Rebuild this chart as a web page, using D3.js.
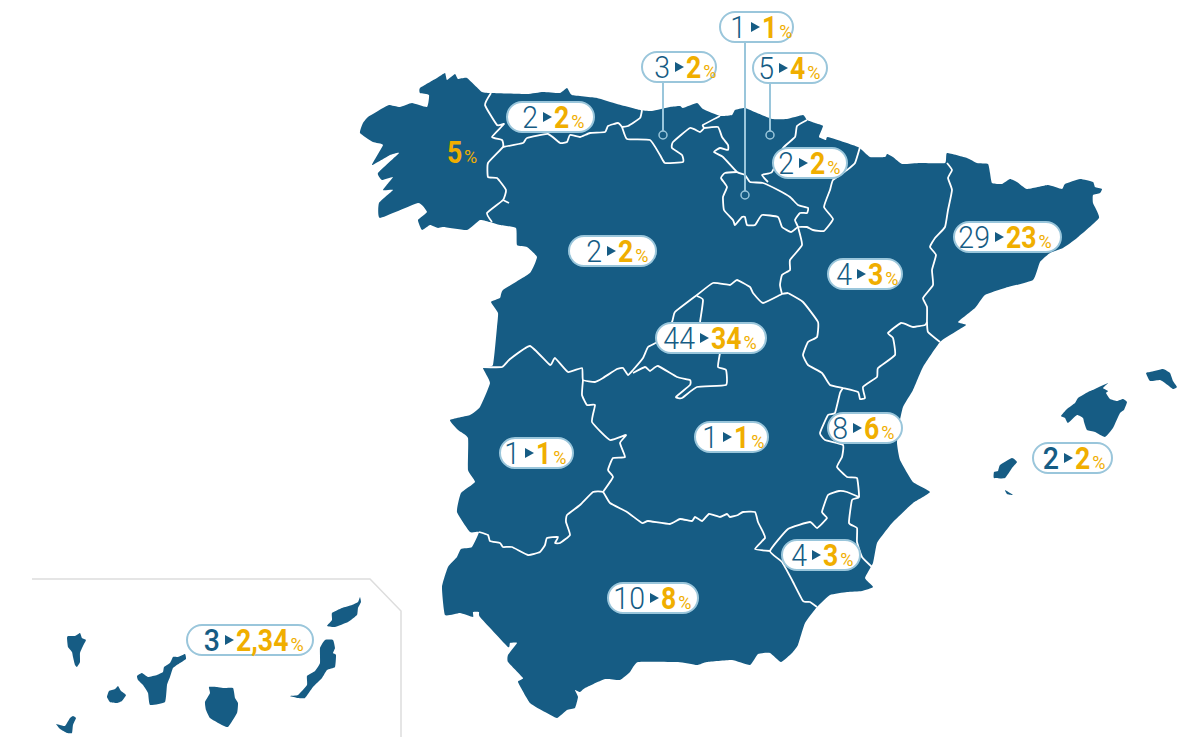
<!DOCTYPE html>
<html>
<head>
<meta charset="utf-8">
<script src="https://cdn.jsdelivr.net/npm/d3@7"></script>
<style>
html, body { margin: 0; padding: 0; background: #fff; }
svg { display: block; }
</style>
</head>
<body>
<script>
var width = 1183,
    height = 737;

// share of each region, before > after
var regions = ["Rioja", "Cantabria", "Pais Vasco", "Asturias", "Navarra", "Castilla y Leon", "Cataluna", "Aragon",
    "Madrid", "Castilla-La Mancha", "Extremadura", "Valencia", "Murcia", "Andalucia", "Baleares", "Canarias"];
var fromValues = ["1", "3", "5", "2", "2", "2", "29", "4", "44", "1", "1", "8", "4", "10", "2", "3"];
var toValues = ["1", "2", "4", "2", "2", "2", "23", "3", "34", "1", "1", "6", "3", "8", "2", "2,34"];
var galiciaValue = "5";

// label placement, same order as regions: [pill left, pill right, middle y, arrow left]
var labelBoxes = [
    [720, 793, 27, 751], [642, 716, 67, 675], [753, 827, 68, 779], [507, 594, 117, 543],
    [773, 847, 163, 799], [569, 656, 251, 607], [954, 1061, 237, 995], [828, 902, 274, 857],
    [656, 766, 338, 700], [695, 768, 437, 723], [500, 573, 453, 525], [828, 902, 428, 853],
    [782, 860, 555, 812], [608, 698, 598, 650], [1033, 1112, 458, 1064], [187, 313, 640, 225]
];
// regions too small for a label on top: [region, dot x, dot y]
var leaders = [["Rioja", 745, 195], ["Cantabria", 663, 135], ["Pais Vasco", 770, 135]];
var boldFrom = ["Baleares", "Canarias"];

var mainland = [[360,133],[363,123],[368,117],[383,108],[389,105],[400,107],[412,103],[427,107],[429,95],[420,93],[420,88],
    [437,78],[445,73],[447,80],[455,74],[458,79],[467,78],[482,92],[492,93],[527,94],[543,92],[560,93],[567,88],[572,95],
    [597,98],[617,104],[640,110],[652,111],[670,107],[680,106],[683,108],[697,103],[703,109],[720,116],[732,115],[735,110],
    [745,108],[757,113],[772,119],[787,119],[803,115],[807,120],[815,123],[823,126],[819,137],[826,140],[828,137],[858,147],
    [870,157],[885,157],[887,154],[893,157],[902,164],[920,163],[945,163],[947,153],[967,158],[977,163],[988,164],[990,173],
    [992,183],[1002,184],[1010,179],[1017,182],[1027,189],[1048,185],[1062,189],[1065,184],[1080,179],[1093,182],[1095,187],
    [1102,189],[1100,193],[1093,195],[1093,203],[1099,218],[1077,238],[1063,248],[1050,253],[1040,262],[1033,280],[1005,288],
    [985,295],[975,308],[958,322],[966,325],[955,332],[940,342],[923,367],[913,390],[903,407],[899,425],[897,443],[900,460],
    [913,482],[930,492],[913,503],[893,522],[888,528],[877,543],[873,563],[865,578],[873,587],[862,591],[847,592],[830,595],
    [817,607],[805,623],[798,645],[792,653],[781,662],[770,653],[758,654],[750,665],[732,660],[707,662],[697,665],[678,662],
    [638,662],[630,672],[620,680],[605,679],[585,688],[580,692],[575,690],[578,697],[575,708],[567,710],[557,718],[545,712],
    [530,703],[518,682],[523,678],[508,662],[508,655],[517,643],[510,643],[508,647],[480,617],[479,612],[473,612],[473,617],
    [460,613],[445,615],[442,587],[448,567],[457,557],[461,549],[472,547],[479,532],[470,532],[457,512],[461,493],[475,482],
    [468,470],[468,438],[458,430],[450,420],[470,415],[480,407],[490,383],[483,368],[493,365],[497,327],[498,313],[491,302],
    [500,298],[503,290],[530,273],[537,257],[527,247],[517,245],[516,228],[500,225],[490,222],[480,220],[467,230],[443,227],
    [438,228],[430,225],[422,230],[418,220],[427,212],[418,203],[380,218],[379,203],[393,190],[383,190],[393,177],[382,180],
    [378,173],[399,153],[390,155],[372,165],[383,145],[373,142]];

var islands = [
    // Baleares
    [[1061,416],[1067,409],[1075,403],[1078,398],[1088,392],[1095,389],[1108,383],[1103,388],[1108,391],[1106,393],[1110,399],[1117,401],[1123,399],[1127,402],[1124,410],[1120,413],[1113,428],[1105,437],[1095,432],[1087,430],[1084,422],[1083,418],[1077,415],[1068,423],[1065,418]],
    [[1146,373],[1150,372],[1163,369],[1170,373],[1173,381],[1177,387],[1173,389],[1165,383],[1160,380],[1150,381]],
    [[994,472],[998,471],[1000,465],[1012,458],[1017,462],[1012,468],[1005,478],[994,478]],
    [[1005,490],[1013,495],[1007,494]],
    // Canarias
    [[67,638],[68,636],[75,636],[80,633],[82,638],[86,640],[83,646],[80,653],[80,662],[77,667],[75,665],[73,657],[72,652],[68,647]],
    [[107,697],[109,691],[115,689],[118,686],[121,691],[126,695],[122,701],[117,703],[110,702]],
    [[137,676],[142,673],[148,677],[157,675],[163,672],[164,667],[170,663],[173,657],[178,657],[185,654],[186,659],[180,663],[173,668],[170,677],[167,685],[165,702],[150,705],[148,693],[143,685],[138,680]],
    [[205,702],[210,693],[209,687],[217,687],[223,688],[233,688],[235,698],[238,703],[237,713],[228,727],[220,724],[210,718],[206,710]],
    [[56,724],[60,725],[65,726],[70,718],[73,716],[76,718],[73,725],[72,733],[67,733],[60,729]],
    [[290,696],[298,695],[307,685],[307,676],[315,671],[320,663],[320,648],[325,640],[333,640],[335,648],[333,653],[336,655],[335,667],[327,670],[322,678],[313,687],[305,698],[298,698]],
    [[327,626],[332,620],[332,613],[342,608],[352,605],[358,602],[360,597],[361,602],[358,608],[357,615],[348,622],[335,627]]
];

var borders = [
    [[491,93],[485,105],[497,125],[504,124],[492,137],[502,140],[503,147],[488,163],[488,177],[497,178],[506,190],[503,200],[487,213],[492,222]],
    [[503,200],[509,203]],
    [[503,147],[523,143],[527,138],[548,134],[560,143],[567,142],[570,135],[580,137],[590,133],[605,132],[608,126],[618,123],[622,127],[627,139],[650,140],[660,155],[665,163],[683,162],[682,155],[672,148],[673,142],[690,128],[700,132],[704,128],[703,125],[720,116]],
    [[622,127],[628,126],[640,118],[642,110]],
    [[704,128],[718,127],[722,137],[728,145],[728,150],[720,148],[714,152],[723,157],[737,172],[745,175],[750,182],[763,183],[778,190],[790,197],[798,205],[808,208],[807,213],[800,213],[795,220],[798,227],[802,245],[790,260],[790,270],[782,275],[780,285],[782,294]],
    [[737,172],[725,173],[721,178],[727,187],[723,197],[724,210],[733,220],[735,225],[742,217],[745,217],[747,225],[755,225],[762,215],[778,217],[782,227],[791,232],[798,227],[807,227],[813,230],[824,231],[833,219],[824,207],[830,190],[833,180],[847,170],[855,163],[860,147]],
    [[807,120],[797,126],[795,137],[783,148],[772,172],[762,175],[768,182]],
    [[788,293],[782,294],[763,303],[753,293],[750,287],[737,280],[730,285],[713,283],[697,295],[675,312],[672,322],[657,342],[648,347],[643,358],[633,370],[628,375],[623,368],[617,369],[603,378],[595,382],[583,380],[582,368],[568,372],[555,358],[550,365],[530,346],[510,359],[502,367],[483,367]],
    [[697,296],[703,300],[700,322]],
    [[720,353],[718,367],[726,370],[726,385],[697,387],[682,398],[676,397],[690,385],[690,380],[677,377],[658,366],[650,371],[645,367],[633,373]],
    [[788,293],[803,302],[818,322],[817,337],[808,342],[803,355],[808,365],[822,373],[830,385],[843,388],[858,392],[860,399],[865,398],[863,387],[877,377],[878,368],[895,355],[893,338],[888,333],[901,323],[913,327],[925,325],[927,322]],
    [[947,163],[952,170],[948,178],[952,190],[948,210],[945,227],[935,238],[930,247],[936,255],[932,270],[933,285],[923,298],[927,307],[927,322],[928,332],[940,342]],
    [[843,388],[840,393],[835,413],[828,415],[820,433],[825,440],[843,445],[842,457],[837,467],[847,477],[857,478],[859,497],[852,500],[849,523],[857,528],[857,542],[862,557],[872,567]],
    [[859,497],[847,492],[839,491],[828,495],[822,512],[827,518],[817,528],[810,522],[788,529],[770,551],[782,562],[792,580],[803,601],[810,602],[817,607]],
    [[479,532],[488,535],[490,541],[500,543],[503,547],[512,547],[528,555],[540,552],[545,545],[547,538],[558,537],[555,543],[560,543],[570,535],[566,522],[567,515],[580,505],[593,492],[603,492],[610,503],[627,512],[642,523],[648,521],[670,524],[680,519],[692,521],[695,517],[702,521],[709,514],[720,517],[727,514],[730,517],[738,515],[743,512],[755,512],[758,522],[763,532],[765,538],[755,549],[770,551]],
    [[603,492],[613,477],[608,470],[613,458],[625,457],[620,443],[626,435],[610,440],[592,422],[595,405],[587,405],[582,395],[583,380]]
];

var insetFrame = [[32,579],[370,579],[401,611],[401,737]];

var blue = "#165c84",
    amber = "#f0ae00",
    pale = "#9ac6db",
    font = "Roboto, sans-serif";

var svg = d3.select("body").append("svg")
    .attr("width", width)
    .attr("height", height)
    .style("font-family", font);

// soften the traced points a little, the original outlines are not straight segments
var closedShape = d3.line().curve(d3.curveCardinalClosed.tension(0.6));
var openLine = d3.line().curve(d3.curveCardinal.tension(0.6));

svg.append("path")
    .attr("d", d3.line()(insetFrame))
    .attr("fill", "none")
    .attr("stroke", "#dddddd")
    .attr("stroke-width", 1.5);

svg.selectAll(".land")
    .data([mainland].concat(islands))
    .enter().append("path")
    .attr("class", "land")
    .attr("d", closedShape)
    .attr("fill", blue);

svg.selectAll(".border")
    .data(borders)
    .enter().append("path")
    .attr("class", "border")
    .attr("d", openLine)
    .attr("fill", "none")
    .attr("stroke", "#fff")
    .attr("stroke-width", 1.8)
    .attr("stroke-linejoin", "round");

// leader lines go under the pills
var labels = regions.map(function (name, i) {
    return { name: name, from: fromValues[i], to: toValues[i], box: labelBoxes[i] };
});

leaders.forEach(function (l) {
    var box = labels.find(function (d) { return d.name == l[0]; }).box;
    svg.append("line")
        .attr("x1", l[1]).attr("x2", l[1])
        .attr("y1", box[2]).attr("y2", l[2] - 4)
        .attr("stroke", pale)
        .attr("stroke-width", 2);
    svg.append("circle")
        .attr("cx", l[1]).attr("cy", l[2]).attr("r", 4)
        .attr("fill", "none")
        .attr("stroke", pale)
        .attr("stroke-width", 1.5);
});

// digits in the original are narrower than Roboto, so each run gets its own squeeze
function number(g, str, x, y, size, weight, color, anchor, squeeze) {
    return g.append("text")
        .attr("transform", "translate(" + x + "," + y + ") scale(" + squeeze + ",1)")
        .attr("text-anchor", anchor)
        .attr("font-size", size)
        .attr("font-weight", weight)
        .attr("fill", color)
        .text(str);
}

var label = svg.selectAll(".label")
    .data(labels)
    .enter().append("g")
    .attr("class", "label");

label.each(function (d) {
    var g = d3.select(this),
        left = d.box[0], right = d.box[1], cy = d.box[2], ax = d.box[3];

    g.append("rect")
        .attr("x", left).attr("y", cy - 15)
        .attr("width", right - left).attr("height", 30)
        .attr("rx", 15)
        .attr("fill", "#fff")
        .attr("stroke", pale)
        .attr("stroke-width", 2);

    var bold = boldFrom.indexOf(d.name) >= 0;
    number(g, d.from, ax - 5, cy + 11, 31, bold ? 500 : 300, blue, "end", 0.92);

    g.append("path")
        .attr("d", d3.line()([[ax, cy - 5], [ax + 9, cy], [ax, cy + 5]]))
        .attr("fill", blue);

    var second = number(g, d.to, ax + 11, cy + 11, 31, 700, amber, "start", 0.86);
    var w = second.node().getComputedTextLength() * 0.86;
    number(g, "%", ax + 11 + w + 2, cy + 11, 19, 400, amber, "start", 0.95);
});

// Galicia has no pill
var galicia = svg.append("g");
number(galicia, galiciaValue, 447, 163, 31, 700, amber, "start", 0.86);
number(galicia, "%", 464, 163, 19, 400, amber, "start", 0.95);
</script>
</body>
</html>
